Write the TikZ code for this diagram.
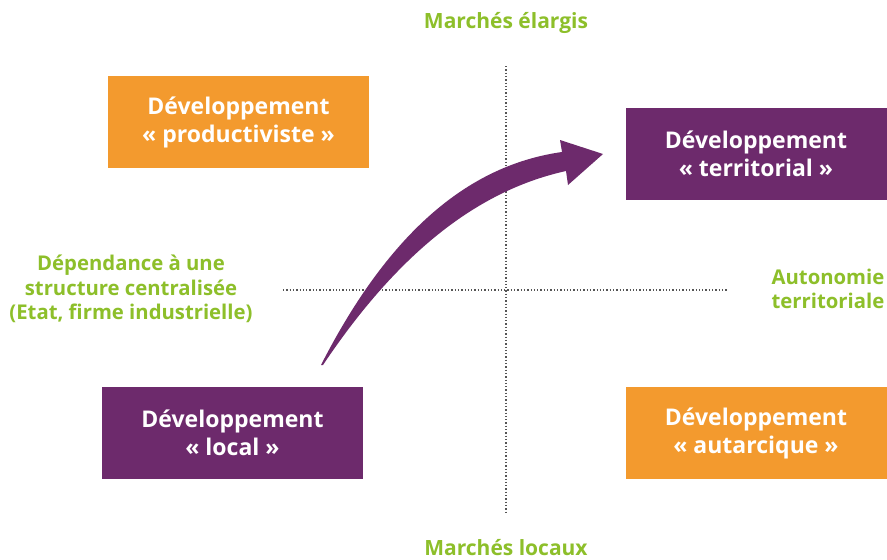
\documentclass[tikz,border=0pt]{standalone}
\usepackage{fontspec}
\setmainfont{Open Sans}
\definecolor{orangebox}{HTML}{F39A2E}
\definecolor{purplebox}{HTML}{6D2A6C}
\definecolor{greentext}{HTML}{8DBF2A}
\definecolor{dotgray}{HTML}{555555}
\begin{document}
\begin{tikzpicture}[x=1pt,y=-1pt,
  box/.style={minimum width=261pt,minimum height=92pt,inner sep=0pt,text=white,
    font=\fontsize{23}{28}\selectfont\bfseries,align=center},
  obox/.style={box,fill=orangebox},
  pbox/.style={box,fill=purplebox},
  glabel/.style={text=greentext,font=\fontsize{20.3}{24.5}\selectfont\bfseries,align=center,inner sep=0pt},
  tlabel/.style={glabel,font=\fontsize{21}{24.5}\selectfont\bfseries},
  axis/.style={draw=dotgray,line width=1.3pt,dash pattern=on 1.3pt off 2pt}]
\useasboundingbox (0,0) rectangle (887,560);
\fill[white] (0,0) rectangle (887,560);
% axes
\coordinate (vtop) at (506,66);
\coordinate (vbot) at (506,513);
\coordinate (hl) at (283,290);
\coordinate (hr) at (728,290);
\draw[axis] (vtop) -- (vbot);
\draw[axis] (hl) -- (hr);
% boxes
\node[obox] (prod) at (238.5,122) {Développement\\« productiviste »};
\node[pbox] (terr) at (756,154) {Développement\\« territorial »};
\node[pbox] (loc) at (232.5,433) {Développement\\« local »};
\node[obox] (aut) at (756,433) {Développement\\« autarcique »};
% labels
\node[tlabel] (top) at (506,23) {Marchés élargis};
\node[tlabel] (bot) at (506,547.5) {Marchés locaux};
\node[glabel] (left) at (131,289) {Dépendance à une\\structure centralisée\\(Etat, firme industrielle)};
\node[glabel] (right) at (828,289) {Autonomie\\territoriale};
% arrow
\fill[purplebox] (321,365) .. controls (390,230) and (470,165) .. (562,152)
  -- (560,140) -- (603,154) -- (568,185) -- (566,171)
  .. controls (480,190) and (400,250) .. (323,365) -- cycle;
\end{tikzpicture}
\end{document}
